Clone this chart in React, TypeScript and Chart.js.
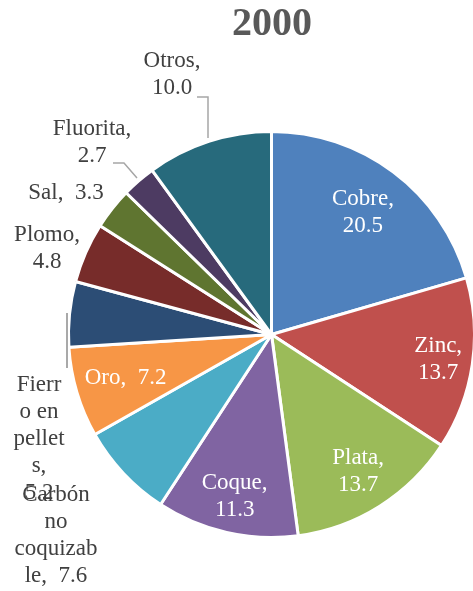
import React, { useEffect, useRef } from "react";
import { Chart, registerables } from "chart.js";

Chart.register(...registerables);

const categories = [
  "Cobre",
  "Zinc",
  "Plata",
  "Coque",
  "Carbón no coquizable",
  "Oro",
  "Fierro en pellets",
  "Plomo",
  "Sal",
  "Fluorita",
  "Otros",
];
const values = [20.5, 13.7, 13.7, 11.3, 7.6, 7.2, 5.2, 4.8, 3.3, 2.7, 10.0];
const colors = [
  "#4F81BD",
  "#C0504D",
  "#9BBB59",
  "#8064A2",
  "#4BACC6",
  "#F79646",
  "#2C4D75",
  "#772C2A",
  "#5F7530",
  "#4D3B62",
  "#276A7C",
];
const titleText = "2000";

// label text lines (as wrapped in the original)
const labelLines: string[][] = [
  ["Cobre,", "20.5"],
  ["Zinc,", "13.7"],
  ["Plata,", "13.7"],
  ["Coque,", "11.3"],
  ["Carbón", "no", "coquizab", "le,  7.6"],
  ["Oro,  7.2"],
  ["Fierr", "o en", "pellet", "s,", "5.2"],
  ["Plomo,", "4.8"],
  ["Sal,  3.3"],
  ["Fluorita,", "2.7"],
  ["Otros,", "10.0"],
];

// inside labels: radial factor; outside labels: anchor (center x, first line y)
type LabelPlace =
  | { inside: true; f: number }
  | { inside: false; x: number; y: number; leader?: number[][]; leaderColor?: string };

const labelPlaces: LabelPlace[] = [
  { inside: true, f: 0.75 },
  { inside: true, f: 0.83 },
  { inside: true, f: 0.8 },
  { inside: true, f: 0.82 },
  { inside: false, x: 56, y: 495 },
  { inside: true, f: 0.75 },
  { inside: false, x: 39, y: 385, leader: [[67, 313], [67, 368]], leaderColor: "#8C8C8C" },
  { inside: false, x: 47, y: 235 },
  { inside: false, x: 66, y: 193 },
  { inside: false, x: 92, y: 129, leader: [[113, 163], [124, 163], [137, 178]] },
  { inside: false, x: 172, y: 61, leader: [[197, 97], [208, 97], [208, 138]] },
];

const FONT = '"Liberation Serif", "Times New Roman", serif';
const LINE_H = 27;

const labelPlugin = {
  id: "pieLabels",
  afterDatasetsDraw(chart: any) {
    const ctx: CanvasRenderingContext2D = chart.ctx;
    const meta = chart.getDatasetMeta(0);
    ctx.save();
    // title
    ctx.font = `bold 40px ${FONT}`;
    ctx.fillStyle = "#595959";
    ctx.textAlign = "center";
    ctx.textBaseline = "alphabetic";
    ctx.fillText(titleText, 272, 35);

    ctx.font = `23px ${FONT}`;
    ctx.textBaseline = "middle";
    meta.data.forEach((arc: any, i: number) => {
      const place = labelPlaces[i];
      const lines = labelLines[i];
      if (place.inside) {
        const mid = (arc.startAngle + arc.endAngle) / 2;
        const r = arc.outerRadius * place.f;
        const cx = arc.x + Math.cos(mid) * r;
        const cy = arc.y + Math.sin(mid) * r;
        const y0 = cy - ((lines.length - 1) * LINE_H) / 2;
        ctx.fillStyle = "#FFFFFF";
        lines.forEach((t, k) => ctx.fillText(t, cx, y0 + k * LINE_H));
      } else {
        if (place.leader) {
          ctx.strokeStyle = place.leaderColor || "#A6A6A6";
          ctx.lineWidth = 1.5;
          ctx.beginPath();
          place.leader.forEach((p, k) => (k === 0 ? ctx.moveTo(p[0], p[1]) : ctx.lineTo(p[0], p[1])));
          ctx.stroke();
        }
        ctx.fillStyle = "#404040";
        lines.forEach((t, k) => ctx.fillText(t, place.x, place.y + k * LINE_H));
      }
    });
    ctx.restore();
  },
};

export default function App() {
  const ref = useRef<HTMLCanvasElement | null>(null);
  useEffect(() => {
    document.body.style.margin = "0";
    const chart = new Chart(ref.current!, {
      type: "pie",
      data: {
        labels: categories,
        datasets: [
          {
            data: values,
            backgroundColor: colors,
            borderColor: "#FFFFFF",
            borderWidth: 3,
          },
        ],
      },
      options: {
        animation: false,
        responsive: false,
        events: [],
        layout: { padding: { left: 67, right: 0, top: 130, bottom: 52 } },
        plugins: {
          legend: { display: false },
          tooltip: { enabled: false },
          title: { display: false },
        },
      },
      plugins: [labelPlugin],
    });
    return () => chart.destroy();
  }, []);
  return (
    <div style={{ width: 473, height: 591, overflow: "hidden", position: "relative", background: "#fff" }}>
      <canvas ref={ref} width={476} height={591} style={{ width: 476, height: 591, display: "block" }} />
    </div>
  );
}
